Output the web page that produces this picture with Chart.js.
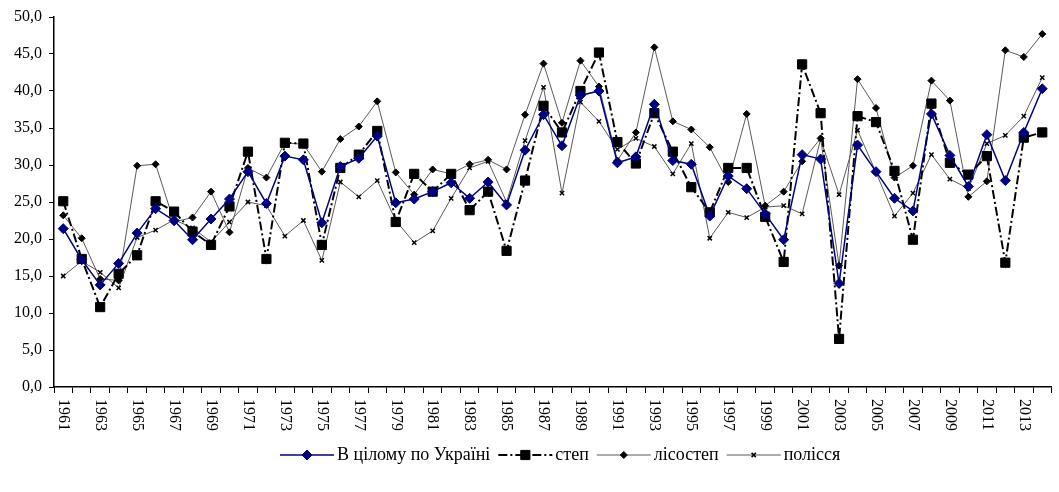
<!DOCTYPE html>
<html>
<head>
<meta charset="utf-8">
<script src="https://cdn.jsdelivr.net/npm/chart.js@4.4.0/dist/chart.umd.min.js"></script>
<style>
  html, body { margin: 0; padding: 0; background: #fff; }
</style>
</head>
<body>
<canvas id="yieldChart" width="1059" height="492"></canvas>
<script>
// --- data ---
const years = [1961, 1962, 1963, 1964, 1965, 1966, 1967, 1968, 1969, 1970,
               1971, 1972, 1973, 1974, 1975, 1976, 1977, 1978, 1979, 1980,
               1981, 1982, 1983, 1984, 1985, 1986, 1987, 1988, 1989, 1990,
               1991, 1992, 1993, 1994, 1995, 1996, 1997, 1998, 1999, 2000,
               2001, 2002, 2003, 2004, 2005, 2006, 2007, 2008, 2009, 2010,
               2011, 2012, 2013, 2014];

const ukraine = [21.4, 17.2, 13.8, 16.7, 20.8, 24.1, 22.5, 19.9, 22.7, 25.4,
                 29.1, 24.8, 31.2, 30.7, 22.2, 29.8, 30.9, 33.9, 24.9, 25.4,
                 26.4, 27.6, 25.5, 27.7, 24.6, 32.0, 36.8, 32.6, 39.4, 40.0,
                 30.3, 31.1, 38.2, 30.6, 30.1, 23.1, 28.5, 26.8, 23.4, 19.9,
                 31.4, 30.8, 14.0, 32.7, 29.1, 25.5, 23.8, 36.9, 31.3, 27.1,
                 34.1, 27.9, 34.4, 40.3];

const steppe = [25.1, 17.3, 10.8, 15.3, 17.8, 25.1, 23.7, 21.0, 19.2, 24.4,
                31.8, 17.3, 33.0, 32.9, 19.2, 29.6, 31.4, 34.6, 22.3, 28.8,
                26.4, 28.8, 23.9, 26.4, 18.4, 27.9, 38.0, 34.4, 40.0, 45.2,
                33.1, 30.2, 37.0, 31.8, 27.0, 23.6, 29.6, 29.6, 23.0, 16.9,
                43.6, 37.0, 6.5, 36.6, 35.8, 29.2, 19.9, 38.3, 30.3, 28.7,
                31.2, 16.8, 33.7, 34.4];

const forestSteppe = [23.2, 20.1, 14.6, 14.4, 29.9, 30.1, 22.3, 22.9, 26.4, 20.9,
                      29.6, 28.3, 33.0, 32.8, 29.1, 33.5, 35.2, 38.6, 29.0, 26.0,
                      29.4, 28.8, 30.1, 30.7, 29.4, 36.8, 43.7, 35.7, 44.1, 40.6,
                      30.6, 34.4, 45.9, 35.9, 34.8, 32.4, 27.7, 36.9, 24.5, 26.4,
                      30.5, 33.6, 16.4, 41.6, 37.7, 28.3, 29.9, 41.4, 38.7, 25.7,
                      27.8, 45.5, 44.6, 47.7];

const polissia = [15.0, 17.0, 15.5, 13.4, 20.2, 21.2, 22.6, 21.5, 19.6, 22.3,
                  25.0, 24.5, 20.4, 22.5, 17.1, 27.7, 25.7, 27.9, 22.5, 19.5,
                  21.1, 25.5, 29.6, 30.5, 25.0, 33.3, 40.5, 26.2, 38.5, 35.9,
                  32.1, 33.6, 32.5, 28.8, 32.9, 20.1, 23.6, 22.9, 24.3, 24.5,
                  23.4, 33.5, 26.0, 34.7, 29.0, 23.1, 26.2, 31.4, 28.1, 26.8,
                  32.9, 34.0, 36.6, 41.8];

const seriesNames = ['В цілому по Україні', 'степ', 'лісостеп', 'полісся'];

const FONT = '"Liberation Serif", "Times New Roman", serif';

// --- x labels: rotated clockwise, every second year ---
const yearLabelsPlugin = {
    id: 'yearLabels',
    afterDraw(chart) {
        const ctx = chart.ctx;
        const xs = chart.scales.x;
        ctx.save();
        ctx.fillStyle = '#000';
        ctx.font = '16px ' + FONT;
        ctx.textAlign = 'left';
        ctx.textBaseline = 'middle';
        years.forEach((y, i) => {
            if (i % 2 !== 0) return;
            const x = xs.getPixelForValue(i);
            ctx.save();
            ctx.translate(x, xs.top + 12);
            ctx.rotate(Math.PI / 2);
            ctx.fillText(String(y), 0, 0);
            ctx.restore();
        });
        ctx.restore();
    }
};

// --- legend: line sample with marker, like the original ---
const lineLegendPlugin = {
    id: 'lineLegend',
    afterDraw(chart) {
        const ctx = chart.ctx;
        const y = 455;
        let x = 280;
        ctx.save();
        ctx.font = '18px ' + FONT;
        ctx.textBaseline = 'middle';
        chart.data.datasets.forEach(ds => {
            ctx.strokeStyle = ds.borderColor;
            ctx.lineWidth = ds.borderWidth;
            ctx.setLineDash(ds.borderDash || []);
            ctx.beginPath();
            ctx.moveTo(x, y);
            ctx.lineTo(x + 54, y);
            ctx.stroke();
            ctx.setLineDash([]);
            ctx.fillStyle = ds.pointBackgroundColor;
            ctx.strokeStyle = ds.pointBorderColor;
            ctx.lineWidth = ds.pointBorderWidth;
            Chart.helpers.drawPoint(ctx, {
                pointStyle: ds.pointStyle,
                radius: ds.pointRadius,
                rotation: 0,
                borderWidth: ds.pointBorderWidth
            }, x + 27, y);
            x += 57;
            ctx.fillStyle = '#000';
            ctx.fillText(ds.label, x, y);
            x += ctx.measureText(ds.label).width + 8;
        });
        ctx.restore();
    }
};

const ctx = document.getElementById('yieldChart').getContext('2d');
new Chart(ctx, {
    type: 'line',
    data: {
        labels: years.map(String),
        datasets: [
            {
                label: seriesNames[0],
                data: ukraine,
                borderColor: '#000080',
                borderWidth: 1.5,
                pointStyle: 'rectRot',
                pointRadius: 5,
                pointBackgroundColor: '#000080',
                pointBorderColor: '#000080',
                pointBorderWidth: 1
            },
            {
                label: seriesNames[1],
                data: steppe,
                borderColor: '#000',
                borderWidth: 2,
                borderDash: [9, 3, 2, 3],
                pointStyle: 'rect',
                pointRadius: 6.5,
                pointBackgroundColor: '#000',
                pointBorderColor: '#000',
                pointBorderWidth: 1
            },
            {
                label: seriesNames[2],
                data: forestSteppe,
                borderColor: '#5a5a5a',
                borderWidth: 1,
                pointStyle: 'rectRot',
                pointRadius: 3.5,
                pointBackgroundColor: '#000',
                pointBorderColor: '#000',
                pointBorderWidth: 1
            },
            {
                label: seriesNames[3],
                data: polissia,
                borderColor: '#5a5a5a',
                borderWidth: 1,
                pointStyle: 'crossRot',
                pointRadius: 3,
                pointBackgroundColor: '#000',
                pointBorderColor: '#000',
                pointBorderWidth: 1.5
            }
        ]
    },
    options: {
        responsive: false,
        animation: false,
        devicePixelRatio: 1,
        layout: { padding: { top: 17, right: 0, left: 0, bottom: 0 } },
        elements: { line: { tension: 0 } },
        plugins: {
            legend: { display: false },
            tooltip: { enabled: false }
        },
        scales: {
            x: {
                offset: true,
                grid: { offset: true, drawOnChartArea: false, tickLength: 6, color: '#000', lineWidth: 1 },
                border: { color: '#000', width: 1.5 },
                ticks: { display: false },
                afterFit: s => { s.height = 105; }
            },
            y: {
                min: 0,
                max: 50,
                ticks: {
                    stepSize: 5,
                    color: '#000',
                    padding: 7,
                    font: { family: FONT, size: 16 },
                    callback: v => v.toFixed(1).replace('.', ',')
                },
                grid: { drawOnChartArea: false, tickLength: 5, color: '#000' },
                border: { color: '#000', width: 1.5 },
                afterFit: s => { s.width = 54; }
            }
        }
    },
    plugins: [yearLabelsPlugin, lineLegendPlugin]
});
</script>
</body>
</html>
